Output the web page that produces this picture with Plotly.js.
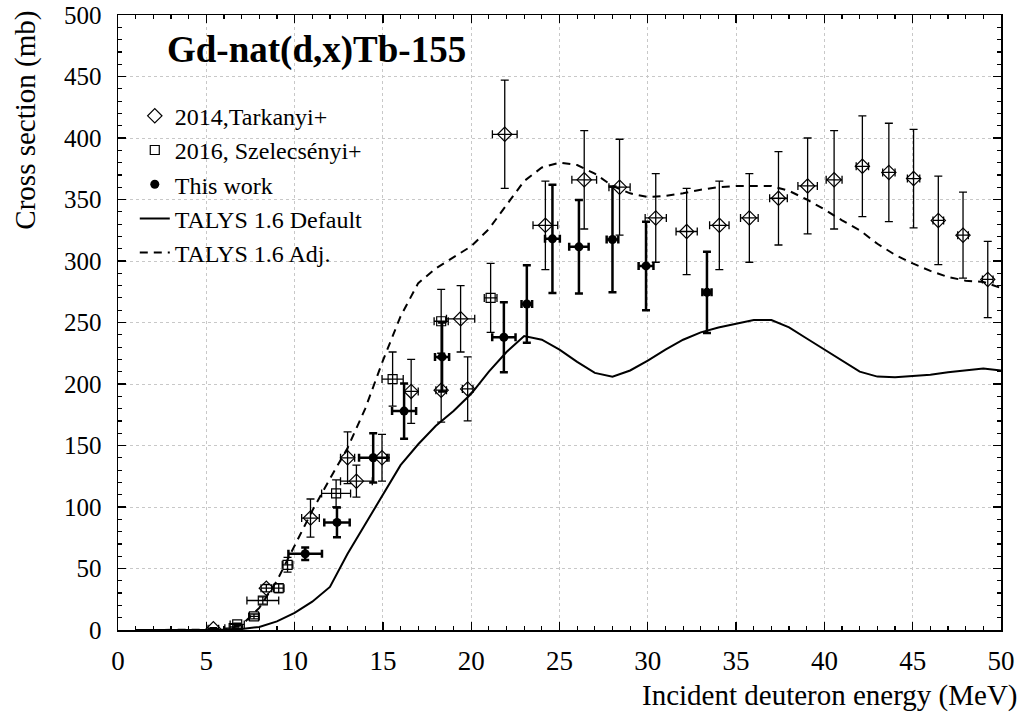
<!DOCTYPE html>
<html>
<head>
<meta charset="utf-8">
<script src="https://cdn.plot.ly/plotly-3.0.1.min.js"></script>
<style>html,body{margin:0;padding:0;background:#fff;}#chart{width:1023px;height:719px;}</style>
</head>
<body>
<div id="chart"></div>
<script>
// 2014, Tarkanyi+
const tarE    = [5.4, 8.4, 10.9, 13.0, 13.5, 14.95, 16.6, 18.3, 19.4, 19.8, 21.9, 24.2, 26.4, 28.4, 30.45, 32.2, 34.05, 35.75, 37.4, 39.05, 40.55, 42.15, 43.65, 45.05, 46.45, 47.85, 49.25];
const tarS    = [1, 34, 91, 140, 121, 140, 194, 195, 253, 196, 403, 329, 366, 360, 335, 324, 329, 335, 351, 361, 366, 377, 372, 367, 333, 321, 285];
const tarSErr = [1, 3, 15.5, 21, 13, 19, 26, 26, 27, 26, 44, 36, 40, 39, 36, 35, 36, 36, 38, 39, 40, 41, 40, 40, 36, 35, 31];
const tarEErr = [0.3, 0.3, 0.5, 0.4, 0.9, 0.4, 0.4, 0.3, 0.8, 0.3, 0.7, 0.7, 0.7, 0.6, 0.6, 0.6, 0.55, 0.5, 0.5, 0.55, 0.45, 0.35, 0.35, 0.35, 0.3, 0.3, 0.3];

// 2016, Szelecsényi+
const szeE    = [6.55, 6.75, 7.7, 8.2, 9.1, 9.6, 12.35, 15.55, 18.3, 21.1];
const szeS    = [1.5, 4.5, 11, 24, 34, 53, 111, 204, 251, 270];
const szeSErr = [1, 1, 2, 3, 3.5, 6, 11, 22, 26, 28];
const szeEErr = [0.5, 0.4, 0.3, 0.9, 0.3, 0.3, 0.82, 0.6, 0.4, 0.36];

// This work
const twE    = [10.6, 12.4, 14.45, 16.2, 18.35, 21.85, 23.15, 24.6, 26.1, 28.0, 29.9, 33.35];
const twS    = [62, 87.5, 140, 178, 222, 238, 265, 318, 311.5, 317.5, 296, 274.5];
const twSErr = [5, 12, 20, 22.5, 28, 28.5, 31.5, 44, 38, 43, 36, 33];
const twEErr = [0.95, 0.72, 0.8, 0.68, 0.4, 0.66, 0.3, 0.42, 0.55, 0.33, 0.42, 0.26];

// TALYS 1.6 curves
const talE   = [1,2,3,4,5,6,7,8,9,10,11,12,13,14,15,16,17,18,19,20,21,22,23,24,25,26,27,28,29,30,31,32,33,34,35,36,37,38,39,40,41,42,43,44,45,46,47,48,49,50];
const talDef = [0,0,0,0,0,0.2,0.8,2.5,7,14,23,35,62,86,110,134,151,166,178,192,210,226,239,236,228,218,209,206,211,219,228,236,242,246,249,252,252,246,237,228,219,210,206,205.5,206.5,207.5,209.5,211,212.5,211];
const talAdj = [0,0,0,0,0,0.3,4,18,40,69,97,123,148,180,219,255,282,294,303,312,326,346,365,376,380,378,371,361,355,352,353,355,358,360,361,361,361,357,350,342,333,325,314,305,298,292,287,284,283,278];

const FONT = 'Liberation Serif';

const traces = [
  {
    x: tarE, y: tarS, type: 'scatter', mode: 'markers', name: '2014,Tarkanyi+',
    marker: {symbol: 'diamond-open', size: 11, color: '#000', line: {width: 1.2, color: '#000'}},
    error_y: {type: 'data', array: tarSErr, visible: true, color: '#000', thickness: 1.3, width: 4},
    error_x: {type: 'data', array: tarEErr, visible: true, color: '#000', thickness: 1.3, width: 4}
  },
  {
    x: szeE, y: szeS, type: 'scatter', mode: 'markers', name: '2016, Szelecsényi+',
    marker: {symbol: 'square-open', size: 9, color: '#000', line: {width: 1.2, color: '#000'}},
    error_y: {type: 'data', array: szeSErr, visible: true, color: '#000', thickness: 1.3, width: 4},
    error_x: {type: 'data', array: szeEErr, visible: true, color: '#000', thickness: 1.3, width: 4}
  },
  {
    x: twE, y: twS, type: 'scatter', mode: 'markers', name: 'This work',
    marker: {symbol: 'circle', size: 9, color: '#000'},
    error_y: {type: 'data', array: twSErr, visible: true, color: '#000', thickness: 2.5, width: 4},
    error_x: {type: 'data', array: twEErr, visible: true, color: '#000', thickness: 2.5, width: 4}
  },
  {
    x: talE, y: talDef, type: 'scatter', mode: 'lines', name: 'TALYS 1.6 Default',
    line: {color: '#000', width: 2}
  },
  {
    x: talE, y: talAdj, type: 'scatter', mode: 'lines', name: 'TALYS 1.6 Adj.',
    line: {color: '#000', width: 2, dash: '8px,6px'}
  }
];

const axisCommon = {
  showline: true, linecolor: '#000', linewidth: 1.5, mirror: 'ticks',
  ticks: 'inside', ticklen: 8, tickwidth: 1.2, tickcolor: '#000',
  showgrid: true, gridcolor: '#c8c8c8', griddash: 'dot', gridwidth: 1,
  zeroline: false
};

const layout = {
  width: 1023, height: 719,
  margin: {l: 118, r: 22, t: 15, b: 89},
  paper_bgcolor: '#fff', plot_bgcolor: '#fff',
  font: {family: FONT, color: '#000'},
  showlegend: true,
  legend: {
    x: 0.019, y: 0.872, xanchor: 'left', yanchor: 'top',
    bgcolor: 'rgba(0,0,0,0)', borderwidth: 0,
    font: {family: FONT, size: 24, color: '#000'},
    itemwidth: 30, tracegroupgap: 0
  },
  xaxis: Object.assign({}, axisCommon, {
    range: [0, 50], dtick: 5, tick0: 0,
    tickfont: {family: FONT, size: 27, color: '#000'},
    ticklabelstandoff: 6,
    minor: {dtick: 1, ticks: 'inside', ticklen: 4, tickcolor: '#000', showgrid: false}
  }),
  yaxis: Object.assign({}, axisCommon, {
    range: [0, 500], dtick: 50, tick0: 0,
    tickfont: {family: FONT, size: 25, color: '#000'},
    ticklabelstandoff: 10,
    minor: {dtick: 10, ticks: 'inside', ticklen: 4, tickcolor: '#000', showgrid: false}
  }),
  annotations: [
    {text: '<b>Gd-nat(d,x)Tb-155</b>', xref: 'paper', yref: 'paper', x: 0.053, y: 0.943,
     xanchor: 'left', yanchor: 'middle', showarrow: false,
     font: {family: FONT, size: 37, color: '#000'}},
    {text: 'Incident deuteron energy (MeV)', xref: 'paper', yref: 'paper', x: 1.0215, y: -0.106,
     xanchor: 'right', yanchor: 'middle', showarrow: false,
     font: {family: FONT, size: 29, color: '#000'}},
    {text: 'Cross section (mb)', xref: 'paper', yref: 'paper', x: -0.105, y: 1.01,
     xanchor: 'center', yanchor: 'top', textangle: -90, showarrow: false,
     font: {family: FONT, size: 29, color: '#000'}}
  ]
};

Plotly.newPlot('chart', traces, layout, {displayModeBar: false, staticPlot: true});
</script>
</body>
</html>
